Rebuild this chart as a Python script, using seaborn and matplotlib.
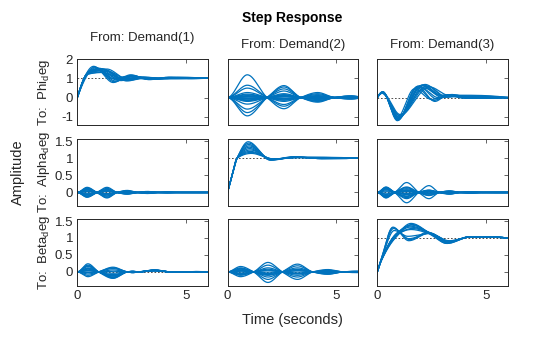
import numpy as np
import pandas as pd
import matplotlib
matplotlib.use("Agg")
import matplotlib.pyplot as plt
import seaborn as sns

# ---------------------------------------------------------------------------
# Step responses of the uncertain plant, 3 inputs (Demand 1..3) x 3 outputs.
# Diagonal / settling channels are given as (time, amplitude) keypoints.
# Cross-coupling channels are given as zero-crossing times plus the signed
# amplitude of each lobe between crossings.
# ---------------------------------------------------------------------------
inputs = ["Demand(1)", "Demand(2)", "Demand(3)"]
outputs = ["Phi", "Alpha", "Beta"]
time_ticks = [0, 5]
phi_ticks = [-1, 0, 1, 2]
ab_ticks = [0, 0.5, 1, 1.5]
ab_tick_labels = ["0", "0.5", "1", "1.5"]

# Demand(1) -> Phi
phi_d1 = [
    [(0, 0), (0.75, 1.62), (1.65, 0.78), (2.45, 1.18), (3.3, 0.93), (4.2, 1.05), (5.2, 0.99), (6, 1)],
    [(0, 0), (0.8, 1.58), (1.7, 0.82), (2.5, 1.15), (3.3, 0.94), (4.2, 1.04), (5.2, 0.99), (6, 1)],
    [(0, 0), (0.85, 1.55), (1.75, 0.86), (2.55, 1.12), (3.4, 0.95), (4.3, 1.04), (6, 1)],
    [(0, 0), (0.5, 1.3), (0.95, 1.5), (1.6, 1.0), (2.3, 1.1), (3.2, 0.95), (4.2, 1.05), (6, 1)],
    [(0, 0), (0.5, 1.3), (1.0, 1.52), (2.0, 0.88), (2.8, 1.06), (3.6, 0.96), (4.5, 1.04), (6, 1)],
    [(0, 0), (0.5, 1.3), (1.1, 1.5), (2.1, 0.9), (2.9, 1.05), (3.7, 0.97), (4.6, 1.04), (6, 1)],
    [(0, 0), (0.5, 1.28), (1.2, 1.47), (2.2, 0.88), (3.0, 1.05), (3.8, 0.97), (4.7, 1.03), (6, 1)],
    [(0, 0), (0.5, 1.26), (1.3, 1.42), (2.3, 0.86), (3.1, 1.06), (3.9, 0.97), (4.8, 1.03), (6, 1)],
    [(0, 0), (0.5, 1.25), (1.05, 1.38), (1.9, 0.95), (2.6, 1.08), (3.5, 0.97), (4.4, 1.03), (6, 1)],
    [(0, 0), (0.5, 1.22), (1.4, 1.35), (2.4, 0.9), (3.3, 1.04), (4.2, 0.98), (6, 1)],
    [(0, 0), (0.5, 1.3), (0.95, 1.45), (1.8, 0.92), (2.5, 1.13), (3.4, 0.94), (4.3, 1.04), (6, 1)],
    [(0, 0), (0.5, 1.22), (1.15, 1.3), (2.1, 0.98), (2.9, 1.06), (3.8, 0.98), (6, 1)],
    [(0, 0), (0.5, 1.27), (1.25, 1.44), (2.0, 0.98), (2.7, 1.02), (3.6, 1.0), (6, 1)],
    [(0, 0), (0.5, 1.29), (1.35, 1.48), (2.35, 0.92), (3.2, 1.04), (4.1, 0.99), (6, 1)],
]

# Demand(2) -> Phi  (cross-coupling)
phi_d2_nodes = [0, 1.82, 3.37, 4.92, 6.4]
phi_d2_amps = [
    [1.18, -0.58, 0.26, -0.08],
    [0.64, -0.45, 0.2, -0.07],
    [0.49, -0.36, 0.15, -0.06],
    [0.26, -0.2, 0.1, -0.04],
    [0.18, -0.14, 0.07, -0.03],
    [0.14, -0.12, 0.06, -0.03],
    [0.1, -0.06, 0.03, -0.02],
    [0.06, -0.08, 0.04, -0.02],
    [0.03, -0.03, 0.02, -0.01],
    [-0.02, 0.04, -0.02, 0.01],
    [-0.05, 0.1, -0.05, 0.02],
    [-0.08, 0.06, -0.03, 0.01],
    [-0.12, 0.15, -0.07, 0.03],
    [-0.16, 0.12, -0.06, 0.02],
    [-0.2, 0.2, -0.1, 0.04],
    [-0.34, 0.34, -0.16, 0.06],
    [-0.6, 0.45, -0.2, 0.07],
    [-0.78, 0.55, -0.24, 0.08],
    [-0.95, 0.62, -0.16, 0.09],
]

# Demand(3) -> Phi
phi_d3 = [
    [(0, 0), (0.25, 0.3), (0.92, -1.2), (1.85, 0.58), (2.65, -0.2), (3.2, 0.1), (4.0, -0.03), (6, 0)],
    [(0, 0), (0.24, 0.28), (0.95, -1.18), (1.8, 0.52), (2.6, -0.15), (3.25, 0.12), (4.1, -0.04), (6, 0)],
    [(0, 0), (0.25, 0.26), (0.98, -1.1), (2.0, 0.62), (2.9, 0.12), (3.4, 0.16), (4.3, -0.02), (6, 0)],
    [(0, 0), (0.23, 0.24), (1.0, -1.02), (2.1, 0.66), (3.0, 0.08), (3.6, 0.1), (4.5, -0.02), (6, 0)],
    [(0, 0), (0.22, 0.22), (1.02, -0.95), (2.2, 0.68), (3.1, 0.05), (3.7, 0.12), (6, 0)],
    [(0, 0), (0.25, 0.27), (0.9, -1.08), (1.7, 0.45), (2.5, -0.1), (3.1, 0.08), (6, 0)],
    [(0, 0), (0.24, 0.25), (1.05, -0.88), (2.3, 0.6), (3.2, 0.02), (3.8, 0.08), (6, 0)],
    [(0, 0), (0.26, 0.3), (0.93, -1.15), (1.95, 0.55), (2.8, 0.0), (3.3, 0.15), (4.2, -0.02), (6, 0)],
    [(0, 0), (0.23, 0.26), (0.97, -1.0), (2.4, 0.55), (3.3, 0.1), (6, 0)],
    [(0, 0), (0.25, 0.29), (0.94, -1.12), (1.9, 0.6), (2.75, -0.08), (3.3, 0.13), (4.2, -0.03), (6, 0)],
    [(0, 0), (0.22, 0.23), (1.03, -0.92), (2.15, 0.5), (3.0, 0.0), (3.6, 0.06), (6, 0)],
    [(0, 0), (0.24, 0.27), (0.96, -1.06), (2.05, 0.64), (2.95, 0.1), (3.5, 0.14), (4.4, -0.02), (6, 0)],
]

# Demand(1) -> Alpha  (cross-coupling)
alpha_d1_nodes = [0, 0.9, 1.83, 2.76, 3.7, 4.6, 6.5]
alpha_d1_amps = [
    [0.15, -0.16, 0.06, -0.03, 0.015, -0.005],
    [-0.14, 0.15, -0.05, 0.03, -0.01, 0.005],
    [0.13, -0.11, 0.05, -0.02, 0.01, 0.0],
    [-0.12, 0.12, -0.04, 0.02, -0.01, 0.0],
    [0.11, -0.14, 0.04, -0.02, 0.01, 0.0],
    [-0.1, 0.09, -0.04, 0.02, -0.01, 0.0],
    [0.09, -0.07, 0.03, -0.02, 0.01, 0.0],
    [-0.08, 0.06, -0.03, 0.015, 0.0, 0.0],
    [0.07, -0.1, 0.03, -0.01, 0.0, 0.0],
    [-0.06, 0.08, -0.03, 0.015, 0.0, 0.0],
    [0.05, -0.05, 0.02, -0.01, 0.0, 0.0],
    [-0.04, 0.04, -0.02, 0.01, 0.0, 0.0],
    [0.03, -0.03, 0.01, -0.01, 0.0, 0.0],
    [-0.02, 0.03, -0.01, 0.01, 0.0, 0.0],
    [0.12, -0.04, 0.02, -0.01, 0.0, 0.0],
    [-0.13, 0.05, -0.02, 0.01, 0.0, 0.0],
]

# Demand(2) -> Alpha
alpha_d2 = [
    [(0, 0), (0.22, 0.52), (0.44, 1.0), (0.95, 1.48), (2.0, 0.94), (3.1, 1.04), (4.3, 0.99), (6, 1)],
    [(0, 0), (0.22, 0.52), (0.44, 1.0), (0.97, 1.44), (2.0, 0.95), (3.1, 1.04), (4.3, 0.99), (6, 1)],
    [(0, 0), (0.22, 0.52), (0.44, 1.0), (0.98, 1.4), (1.95, 0.95), (3.0, 1.04), (4.3, 0.99), (6, 1)],
    [(0, 0), (0.22, 0.52), (0.44, 1.0), (1.0, 1.36), (2.0, 0.96), (3.1, 1.03), (4.3, 0.99), (6, 1)],
    [(0, 0), (0.22, 0.52), (0.44, 1.0), (1.0, 1.32), (2.05, 0.96), (3.1, 1.03), (4.3, 0.99), (6, 1)],
    [(0, 0), (0.22, 0.52), (0.44, 1.0), (1.02, 1.28), (2.0, 0.97), (3.2, 1.03), (6, 1)],
    [(0, 0), (0.22, 0.52), (0.44, 1.0), (1.05, 1.24), (2.1, 0.97), (3.2, 1.02), (6, 1)],
    [(0, 0), (0.22, 0.52), (0.44, 1.0), (1.05, 1.2), (2.1, 0.97), (3.2, 1.02), (6, 1)],
    [(0, 0), (0.22, 0.52), (0.44, 1.0), (1.08, 1.17), (2.1, 0.98), (3.2, 1.02), (6, 1)],
    [(0, 0), (0.22, 0.52), (0.44, 1.0), (1.1, 1.14), (2.1, 0.98), (3.2, 1.02), (6, 1)],
]

# Demand(3) -> Alpha  (cross-coupling)
alpha_d3_nodes = [0, 0.8, 1.9, 2.85, 3.8, 4.8, 6.5]
alpha_d3_amps = [
    [0.14, -0.3, 0.2, -0.05, 0.02, 0.0],
    [-0.12, 0.29, -0.18, 0.04, -0.02, 0.0],
    [0.16, -0.15, 0.07, -0.04, 0.02, -0.01],
    [-0.16, 0.14, -0.08, 0.03, -0.01, 0.0],
    [0.13, -0.12, 0.06, -0.03, 0.01, 0.0],
    [-0.12, 0.11, -0.05, 0.02, -0.01, 0.0],
    [0.1, -0.1, 0.05, -0.02, 0.01, 0.0],
    [-0.09, 0.08, -0.04, 0.02, -0.01, 0.0],
    [0.08, -0.06, 0.04, -0.02, 0.01, 0.0],
    [-0.06, 0.05, -0.03, 0.02, 0.0, 0.0],
    [0.05, -0.04, 0.02, -0.01, 0.0, 0.0],
    [-0.04, 0.03, -0.02, 0.01, 0.0, 0.0],
    [0.02, -0.02, 0.01, -0.01, 0.0, 0.0],
    [-0.13, 0.16, -0.09, 0.05, -0.02, 0.01],
    [0.11, -0.18, 0.06, -0.04, 0.01, 0.0],
    [0.15, 0.06, -0.03, 0.02, 0.0, 0.0],
    [-0.15, -0.05, 0.03, -0.02, 0.0, 0.0],
]

# Demand(1) -> Beta  (cross-coupling)
beta_d1_nodes = [0, 0.98, 2.3, 2.8, 4.3, 6.5]
beta_d1_amps = [
    [0.24, -0.19, 0.02, 0.06, 0.01],
    [0.2, -0.16, 0.01, 0.05, 0.01],
    [0.16, -0.12, 0.0, 0.05, 0.01],
    [0.12, -0.08, 0.01, 0.04, 0.0],
    [0.08, -0.04, 0.0, 0.04, 0.0],
    [0.04, 0.02, -0.01, 0.03, 0.0],
    [-0.02, 0.06, -0.01, 0.03, 0.0],
    [-0.06, 0.1, -0.02, 0.04, 0.01],
    [-0.1, 0.14, -0.02, 0.05, 0.01],
    [-0.14, 0.12, -0.02, 0.04, 0.0],
    [0.1, -0.15, 0.02, 0.05, 0.01],
    [0.05, -0.18, 0.02, 0.06, 0.0],
    [0.18, -0.1, 0.01, 0.05, 0.0],
    [0.0, -0.12, 0.01, 0.04, 0.0],
]

# Demand(2) -> Beta  (cross-coupling)
beta_d2_nodes = [0, 1.2, 2.52, 3.92, 5.3, 6.5]
beta_d2_amps = [
    [0.16, -0.31, 0.23, -0.07, 0.02],
    [-0.14, 0.28, -0.22, 0.07, -0.02],
    [0.1, -0.22, 0.18, -0.06, 0.02],
    [-0.08, 0.2, -0.15, 0.05, -0.01],
    [0.06, -0.15, 0.12, -0.05, 0.01],
    [-0.05, 0.12, -0.1, 0.04, -0.01],
    [0.04, -0.08, 0.07, -0.03, 0.01],
    [-0.03, 0.05, -0.05, 0.02, 0.0],
    [0.02, -0.03, 0.03, -0.02, 0.0],
    [0.12, -0.1, 0.08, -0.04, 0.01],
    [-0.1, 0.08, -0.06, 0.03, -0.01],
    [0.08, -0.05, 0.04, -0.03, 0.01],
    [-0.06, 0.03, -0.03, 0.02, 0.0],
]

# Demand(3) -> Beta
beta_d3 = [
    [(0, 0), (0.2, 0.42), (0.72, 1.32), (1.45, 0.92), (2.4, 1.15), (3.3, 0.9), (4.3, 1.04), (6, 1)],
    [(0, 0), (0.2, 0.4), (0.75, 1.28), (1.45, 0.98), (2.4, 1.14), (3.3, 0.9), (4.3, 1.04), (6, 1)],
    [(0, 0), (0.2, 0.41), (0.7, 1.3), (1.5, 0.95), (2.3, 1.17), (3.3, 0.88), (4.3, 1.04), (6, 1)],
    [(0, 0), (0.2, 0.39), (0.78, 1.22), (1.4, 1.05), (2.4, 1.13), (3.3, 0.9), (4.3, 1.04), (6, 1)],
    [(0, 0), (0.2, 0.38), (0.9, 1.15), (1.5, 1.35), (2.5, 1.12), (3.2, 0.88), (4.3, 1.04), (6, 1)],
    [(0, 0), (0.2, 0.37), (0.85, 1.1), (1.55, 1.38), (2.5, 1.12), (3.2, 0.86), (4.3, 1.04), (6, 1)],
    [(0, 0), (0.2, 0.36), (0.8, 1.0), (1.55, 1.43), (2.5, 1.1), (3.2, 0.84), (4.3, 1.04), (6, 1)],
    [(0, 0), (0.2, 0.35), (0.8, 0.98), (1.6, 1.4), (2.5, 1.08), (3.2, 0.84), (4.3, 1.04), (6, 1)],
    [(0, 0), (0.2, 0.36), (0.8, 1.02), (1.5, 1.32), (2.5, 1.14), (3.3, 0.9), (4.3, 1.03), (6, 1)],
    [(0, 0), (0.2, 0.37), (0.82, 1.05), (1.6, 1.28), (2.6, 1.1), (3.3, 0.92), (4.3, 1.03), (6, 1)],
    [(0, 0), (0.2, 0.38), (0.85, 1.08), (1.55, 1.25), (2.45, 1.12), (3.25, 0.9), (4.3, 1.03), (6, 1)],
]


def pchip(xk, yk, x, start_slope=None):
    """Shape-preserving piecewise cubic through the keypoints."""
    xk = np.asarray(xk, float)
    yk = np.asarray(yk, float)
    h = np.diff(xk)
    d = np.diff(yk) / h
    n = len(xk)
    m = np.zeros(n)
    for k in range(1, n - 1):
        if d[k - 1] * d[k] > 0:
            w1 = 2 * h[k] + h[k - 1]
            w2 = h[k] + 2 * h[k - 1]
            m[k] = (w1 + w2) / (w1 / d[k - 1] + w2 / d[k])

    def edge(h0, h1, d0, d1):
        s = ((2 * h0 + h1) * d0 - h0 * d1) / (h0 + h1)
        if np.sign(s) != np.sign(d0):
            return 0.0
        if np.sign(d0) != np.sign(d1) and abs(s) > 3 * abs(d0):
            return 3 * d0
        return s

    if n > 2:
        m[0] = edge(h[0], h[1], d[0], d[1])
        m[-1] = edge(h[-1], h[-2], d[-1], d[-2])
    else:
        m[0] = m[-1] = d[0]
    if start_slope is not None:
        m[0] = start_slope
    idx = np.clip(np.searchsorted(xk, x, side="right") - 1, 0, n - 2)
    t = (x - xk[idx]) / h[idx]
    h00 = 2 * t**3 - 3 * t**2 + 1
    h10 = t**3 - 2 * t**2 + t
    h01 = -2 * t**3 + 3 * t**2
    h11 = t**3 - t**2
    return (h00 * yk[idx] + h10 * h[idx] * m[idx]
            + h01 * yk[idx + 1] + h11 * h[idx] * m[idx + 1])


def lobe_knots(nodes, amps):
    pts = []
    for k, a in enumerate(amps):
        pts.append((nodes[k], 0.0))
        pts.append(((nodes[k] + nodes[k + 1]) / 2, a))
    pts.append((nodes[len(amps)], 0.0))
    if pts[-1][0] < 6.5:
        pts.append((6.5, 0.0))
    return pts


tgrid = np.linspace(0, 6, 601)
panels = {
    (0, 0): ("knots", phi_d1, 1.0),
    (0, 1): ("lobes", (phi_d2_nodes, phi_d2_amps), 0.0),
    (0, 2): ("knots", phi_d3, 0.0),
    (1, 0): ("lobes", (alpha_d1_nodes, alpha_d1_amps), 0.0),
    (1, 1): ("knots", alpha_d2, 1.0),
    (1, 2): ("lobes", (alpha_d3_nodes, alpha_d3_amps), 0.0),
    (2, 0): ("lobes", (beta_d1_nodes, beta_d1_amps), 0.0),
    (2, 1): ("lobes", (beta_d2_nodes, beta_d2_amps), 0.0),
    (2, 2): ("knots", beta_d3, 1.0),
}

frames = []
for (r, c), (kind, spec, final) in panels.items():
    if kind == "knots":
        curves = [(k, None) for k in spec]
    else:
        nodes, amps = spec
        curves = [(lobe_knots(nodes, a), 0.0) for a in amps]
    for i, (knots, s0) in enumerate(curves):
        xs, ys = zip(*knots)
        frames.append(pd.DataFrame({
            "row": r, "col": c, "curve": i, "t": tgrid,
            "y": pchip(xs, ys, tgrid, start_slope=s0),
        }))
df = pd.concat(frames, ignore_index=True)

# ---------------------------------------------------------------------------
sns.set_theme(style="white")
plt.rcParams["font.family"] = ["Liberation Sans", "DejaVu Sans"]
plt.rcParams["axes.unicode_minus"] = False
plt.rcParams["mathtext.default"] = "regular"

BLUE = "#0072BD"
INK = "#262626"
W, H = 560, 337
fig = plt.figure(figsize=(W / 100, H / 100), dpi=100)

col_left = [77.3, 227.5, 377.3]
row_top = [59, 139, 219]
ax_w, ax_h = 130.5, 66.5
ylims = [(-1.45, 2.0), (-0.38, 1.56), (-0.4, 1.56)]

for r in range(3):
    for c in range(3):
        ax = fig.add_axes([col_left[c] / W, 1 - (row_top[r] + ax_h) / H, ax_w / W, ax_h / H])
        sub = df[(df["row"] == r) & (df["col"] == c)]
        final = panels[(r, c)][2]
        ax.axhline(final, color="#333333", lw=0.6, dashes=(2, 2.2), zorder=1)
        sns.lineplot(data=sub, x="t", y="y", units="curve", estimator=None,
                     color=BLUE, linewidth=0.9, legend=False, ax=ax, zorder=2)
        ax.set_xlim(0, 6)
        ax.set_ylim(*ylims[r])
        ax.set_xticks(time_ticks)
        if r == 0:
            ax.set_yticks(phi_ticks)
            ax.set_yticklabels([str(v) for v in phi_ticks])
        else:
            ax.set_yticks(ab_ticks)
            ax.set_yticklabels(ab_tick_labels)
        ax.tick_params(direction="in", length=3, width=0.5, top=True, right=True,
                       labelsize=9.5, colors=INK, pad=3,
                       labelbottom=(r == 2), labelleft=(c == 0))
        ax.set_xlabel("")
        ax.set_ylabel("")
        for s in ax.spines.values():
            s.set_color(INK)
            s.set_linewidth(0.7)


def ftext(x, y, s, color=INK, **kw):
    fig.text(x / W, 1 - y / H, s, ha="center", va="center", color=color, **kw)


ftext(292, 18, "Step Response", color="black", fontsize=10, fontweight="bold")
ftext(142.5, 38, "From: " + inputs[0], fontsize=9.5)
ftext(292.7, 45, "From: " + inputs[1], fontsize=9.5)
ftext(442.5, 45, "From: " + inputs[2], fontsize=9.5)
row_mid = [row_top[r] + ax_h / 2 for r in range(3)]
for r, name in enumerate(outputs):
    ftext(44, row_mid[r], "To:  " + name + r"$_{d}$eg", fontsize=9.5, rotation=90)
ftext(18, 172, "Amplitude", fontsize=10.5, rotation=90)
ftext(292, 320, "Time (seconds)", fontsize=10.5)

fig.savefig("out.png", dpi=100)
